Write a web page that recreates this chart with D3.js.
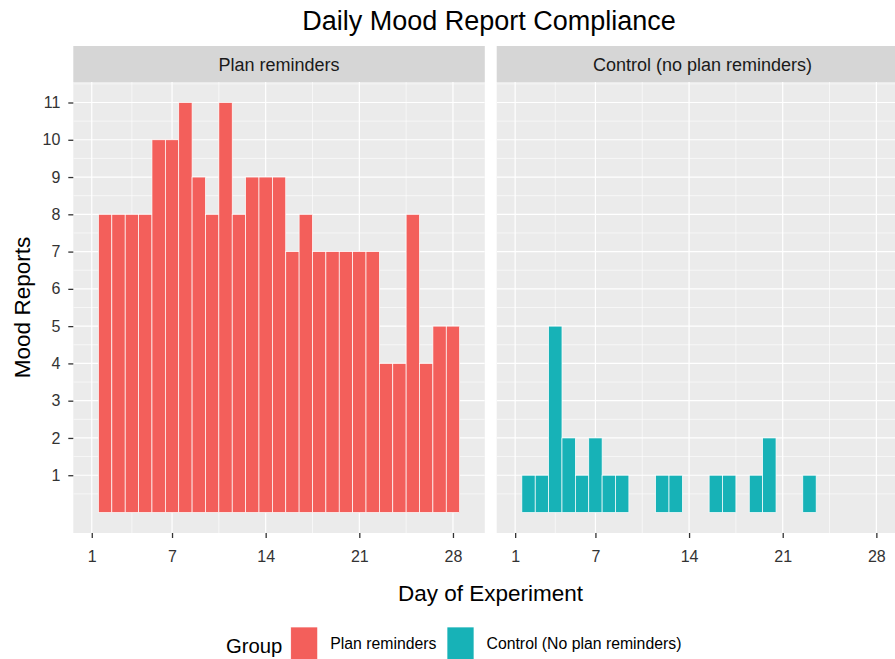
<!DOCTYPE html>
<html>
<head>
<meta charset="utf-8">
<script src="https://cdn.jsdelivr.net/npm/d3@7"></script>
<style>
  html, body { margin: 0; padding: 0; background: #fff; }
  svg { display: block; font-family: "Liberation Sans", Arial, Helvetica, sans-serif; }
</style>
</head>
<body>
<div id="chart"></div>
<script>
// Dữ liệu: số báo cáo tâm trạng mỗi ngày
const planDays = [2, 3, 4, 5, 6, 7, 8, 9, 10, 11, 12, 13, 14, 15, 16, 17, 18, 19, 20, 21, 22, 23, 24, 25, 26, 27, 28];
const planCounts = [8, 8, 8, 8, 10, 10, 11, 9, 8, 11, 8, 9, 9, 9, 7, 8, 7, 7, 7, 7, 7, 4, 4, 8, 4, 5, 5];
const controlDays = [2, 3, 4, 5, 6, 7, 8, 9, 12, 13, 16, 17, 19, 20, 23];
const controlCounts = [1, 1, 5, 2, 1, 2, 1, 1, 1, 1, 1, 1, 1, 2, 1];

const panelLabels = ["Plan reminders", "Control (no plan reminders)"];
const legendLabels = ["Plan reminders", "Control (No plan reminders)"];
const xTicks = [1, 7, 14, 21, 28];
const xMinor = [4, 10.5, 17.5, 24.5];
const yTicks = [1, 2, 3, 4, 5, 6, 7, 8, 9, 10, 11];
const yMinor = [0.5, 1.5, 2.5, 3.5, 4.5, 5.5, 6.5, 7.5, 8.5, 9.5, 10.5, 11.5];

const colors = ["#F35F5B", "#17B2B7"];

const width = 895;
const height = 659;

const svg = d3.select("#chart")
    .append("svg")
    .attr("width", width)
    .attr("height", height);

// Bố cục panel
const plotTop = 82;
const plotBottom = 533;
const stripTop = 46;
const panelW = 411.5;
const panelLefts = [73.3, 496.7];

const y = d3.scaleLinear()
    .domain([-0.55, 11.55])
    .range([plotBottom, plotTop]);

// Tiêu đề
svg.append("text")
    .attr("x", 489)
    .attr("y", 30)
    .attr("text-anchor", "middle")
    .style("font-size", "27px")
    .style("fill", "#000")
    .text("Daily Mood Report Compliance");

function drawPanel(i, days, counts) {
    const left = panelLefts[i];
    const x = d3.scaleLinear()
        .domain([-0.38, 30.38])
        .range([left, left + panelW]);

    const clipId = "clip" + i;
    svg.append("clipPath").attr("id", clipId)
        .append("rect")
        .attr("x", left).attr("y", plotTop)
        .attr("width", panelW).attr("height", plotBottom - plotTop);

    const g = svg.append("g");

    // Nền panel
    g.append("rect")
        .attr("x", left).attr("y", plotTop)
        .attr("width", panelW).attr("height", plotBottom - plotTop)
        .attr("fill", "#EBEBEB");

    const grid = g.append("g").attr("clip-path", `url(#${clipId})`);

    // Lưới phụ
    grid.selectAll(".ymin").data(yMinor).enter().append("line")
        .attr("x1", left).attr("x2", left + panelW)
        .attr("y1", d => y(d)).attr("y2", d => y(d))
        .attr("stroke", "#fff").attr("stroke-width", 0.6);
    grid.selectAll(".xmin").data(xMinor).enter().append("line")
        .attr("x1", d => x(d)).attr("x2", d => x(d))
        .attr("y1", plotTop).attr("y2", plotBottom)
        .attr("stroke", "#fff").attr("stroke-width", 0.6);

    // Lưới chính
    grid.selectAll(".ymaj").data(yTicks).enter().append("line")
        .attr("x1", left).attr("x2", left + panelW)
        .attr("y1", d => y(d)).attr("y2", d => y(d))
        .attr("stroke", "#fff").attr("stroke-width", 1.2);
    grid.selectAll(".xmaj").data(xTicks).enter().append("line")
        .attr("x1", d => x(d)).attr("x2", d => x(d))
        .attr("y1", plotTop).attr("y2", plotBottom)
        .attr("stroke", "#fff").attr("stroke-width", 1.2);

    // Cột
    const data = days.map((d, k) => ({ day: d, count: counts[k] }));
    grid.selectAll(".bar").data(data).enter().append("rect")
        .attr("x", d => x(d.day - 0.5))
        .attr("width", d => x(d.day + 0.5) - x(d.day - 0.5))
        .attr("y", d => y(d.count))
        .attr("height", d => y(0) - y(d.count))
        .attr("fill", colors[i])
        .attr("stroke", "#fff")
        .attr("stroke-width", 0.7);

    // Dải tiêu đề panel
    svg.append("rect")
        .attr("x", left).attr("y", stripTop)
        .attr("width", panelW).attr("height", plotTop - stripTop)
        .attr("fill", "#D6D6D6");
    svg.append("text")
        .attr("x", left + panelW / 2)
        .attr("y", (stripTop + plotTop) / 2 + 6.5)
        .attr("text-anchor", "middle")
        .style("font-size", "18px")
        .style("fill", "#1a1a1a")
        .text(panelLabels[i]);

    // Trục x
    const xAxis = svg.append("g")
        .attr("transform", `translate(0,${plotBottom})`)
        .call(d3.axisBottom(x).tickValues(xTicks).tickSize(5).tickPadding(13).tickFormat(d3.format("d")));
    xAxis.select(".domain").remove();
    xAxis.selectAll("line").attr("stroke", "#333").attr("stroke-width", 1.3);
    xAxis.selectAll("text").style("font-size", "16px").style("fill", "#333")
        .style("font-family", "'Liberation Sans', Arial, sans-serif");

    // Trục y (chỉ panel trái)
    if (i === 0) {
        const yAxis = svg.append("g")
            .attr("transform", `translate(${left},0)`)
            .call(d3.axisLeft(y).tickValues(yTicks).tickSize(5).tickPadding(8).tickFormat(d3.format("d")));
        yAxis.select(".domain").remove();
        yAxis.selectAll("line").attr("stroke", "#333").attr("stroke-width", 1.3);
        yAxis.selectAll("text").style("font-size", "16px").style("fill", "#333")
            .style("font-family", "'Liberation Sans', Arial, sans-serif");
    }
}

drawPanel(0, planDays, planCounts);
drawPanel(1, controlDays, controlCounts);

// Nhãn trục
svg.append("text")
    .attr("transform", `translate(30,${(plotTop + plotBottom) / 2}) rotate(-90)`)
    .attr("text-anchor", "middle")
    .style("font-size", "22.5px")
    .style("fill", "#000")
    .text("Mood Reports");

svg.append("text")
    .attr("x", 490.5)
    .attr("y", 601)
    .attr("text-anchor", "middle")
    .style("font-size", "22.5px")
    .style("fill", "#000")
    .text("Day of Experiment");

// Chú giải
const legend = svg.append("g");
legend.append("text")
    .attr("x", 226).attr("y", 653)
    .style("font-size", "20.3px")
    .style("fill", "#000")
    .text("Group");

const legendX = [290.7, 447];
legend.selectAll(".key").data(legendLabels).enter().append("rect")
    .attr("x", (d, k) => legendX[k])
    .attr("y", 627)
    .attr("width", 27)
    .attr("height", 40)
    .attr("fill", (d, k) => colors[k])
    .attr("stroke", "#fff")
    .attr("stroke-width", 0.7);

legend.selectAll(".lab").data(legendLabels).enter().append("text")
    .attr("x", (d, k) => legendX[k] + 39.5)
    .attr("y", 649)
    .style("font-size", "15.8px")
    .style("fill", "#000")
    .text(d => d);
</script>
</body>
</html>
